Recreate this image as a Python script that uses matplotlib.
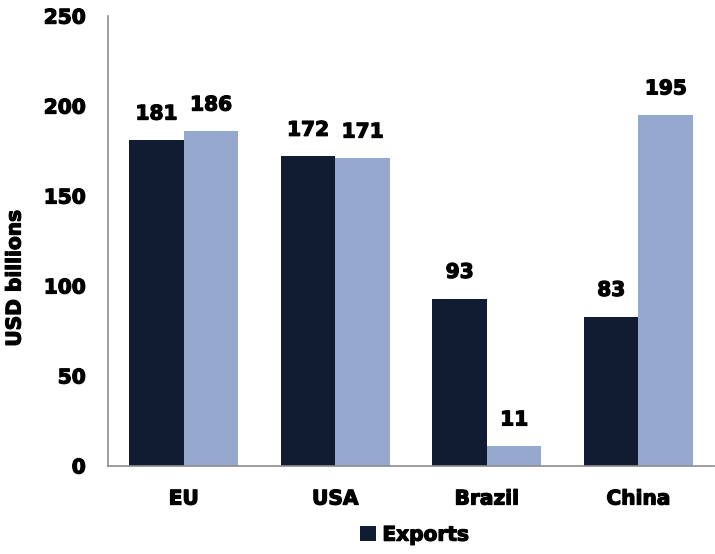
import numpy as np
import matplotlib
matplotlib.use("Agg")
import matplotlib.pyplot as plt
import matplotlib.patheffects as pe

plt.rcParams['font.family'] = ['DejaVu Sans']
plt.rcParams['font.weight'] = 'bold'

# Data
categories = ["EU", "USA", "Brazil", "China"]
exports = [181, 172, 93, 83]
imports = [186, 171, 11, 195]
yticks = [0, 50, 100, 150, 200, 250]

dark = "#111c33"
light = "#95a9cf"
heavy = [pe.withStroke(linewidth=0.9, foreground="black")]

fig = plt.figure(figsize=(7.15, 5.54), dpi=100)
ax = fig.add_axes([0.151, 0.159, 0.848, 0.812])

x = np.arange(len(categories))
w = 0.36
b1 = ax.bar(x - w / 2, exports, w, color=dark, label="Exports")
b2 = ax.bar(x + w / 2, imports, w, color=light)

for bars, vals in ((b1, exports), (b2, imports)):
    for rect, v in zip(bars, vals):
        ax.annotate(str(v), (rect.get_x() + rect.get_width() / 2, v),
                    xytext=(0, 12), textcoords="offset points",
                    ha="center", va="bottom", fontsize=14.5, fontweight="bold",
                    path_effects=heavy)

ax.set_xlim(-0.5, 3.5)
ax.set_ylim(0, 250)
ax.set_yticks(yticks)
ax.set_xticks(x)
ax.set_xticklabels(categories)
ax.tick_params(axis="both", length=0, labelsize=14.5)
ax.tick_params(axis="y", pad=16)
ax.tick_params(axis="x", pad=17)
for lab in ax.get_xticklabels() + ax.get_yticklabels():
    lab.set_path_effects(heavy)
for s in ("top", "right"):
    ax.spines[s].set_visible(False)
for s in ("left", "bottom"):
    ax.spines[s].set_color("#8c8c8c")
    ax.spines[s].set_linewidth(1.2)

fig.text(15 / 715, 1 - 278 / 554, "USD billions", rotation=90,
         ha="center", va="center", fontsize=14.5, fontweight="bold",
         path_effects=heavy)

leg = fig.legend(handles=[b1], labels=["Exports"], loc="center",
                 bbox_to_anchor=(0.58, 0.034), frameon=False, fontsize=14.5,
                 handlelength=0.8, handleheight=0.8, handletextpad=0.3,
                 borderpad=0, borderaxespad=0)
for t in leg.get_texts():
    t.set_path_effects(heavy)

fig.savefig("out.png", dpi=100)
